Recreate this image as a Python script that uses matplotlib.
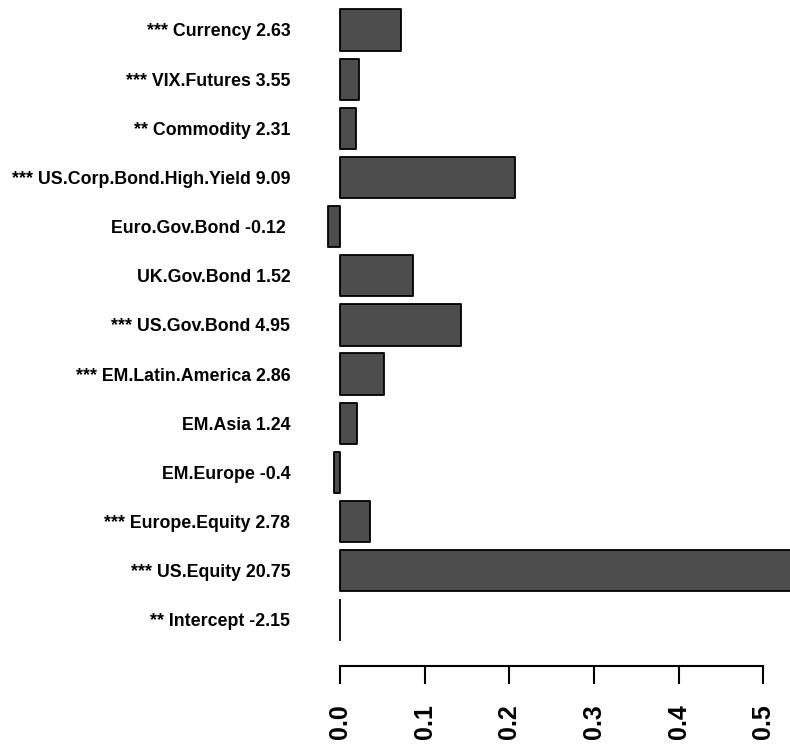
import matplotlib

matplotlib.use("Agg")
import matplotlib.pyplot as plt
import numpy as np

# bottom to top, as drawn by the barplot
factors = [
    "** Intercept -2.15",
    "*** US.Equity 20.75",
    "*** Europe.Equity 2.78",
    "EM.Europe -0.4",
    "EM.Asia 1.24",
    "*** EM.Latin.America 2.86",
    "*** US.Gov.Bond 4.95",
    "UK.Gov.Bond 1.52",
    "Euro.Gov.Bond -0.12 ",
    "*** US.Corp.Bond.High.Yield 9.09",
    "** Commodity 2.31",
    "*** VIX.Futures 3.55",
    "*** Currency 2.63",
]
weights = [0.0, 0.60, 0.036, -0.007, 0.020, 0.052, 0.143, 0.086, -0.014,
           0.207, 0.019, 0.022, 0.072]
x_ticks = [0.0, 0.1, 0.2, 0.3, 0.4, 0.5]

plt.rcParams["font.family"] = ["Liberation Sans", "DejaVu Sans"]
plt.rcParams["font.weight"] = "bold"

fig = plt.figure(figsize=(7.9, 7.45), dpi=100)
ax = fig.add_axes([300 / 790, 79.3 / 745, 490 / 790, 665.7 / 745])

pos = np.arange(len(factors))
ax.barh(pos, weights, height=0.84, color="#4d4d4d", edgecolor="black",
        linewidth=1.3, joinstyle="round")

ax.set_xlim(-40 / 846.6, 450 / 846.6)
ax.set_ylim(-0.93, 12.61)

for side in ["top", "right", "left"]:
    ax.spines[side].set_visible(False)
ax.spines["bottom"].set_bounds(0, 0.5)
ax.spines["bottom"].set_linewidth(1.5)

ax.set_xticks(x_ticks)
ax.set_xticklabels([f"{t:.1f}" for t in x_ticks], rotation=90, fontsize=18,
                   fontweight="bold")
ax.tick_params(axis="x", length=13, width=1.5, pad=15)

ax.set_yticks(pos)
ax.set_yticklabels(factors, fontsize=12.8, fontweight="bold")
ax.tick_params(axis="y", length=0, pad=7)

fig.savefig("out.png", dpi=100)
plt.close(fig)
